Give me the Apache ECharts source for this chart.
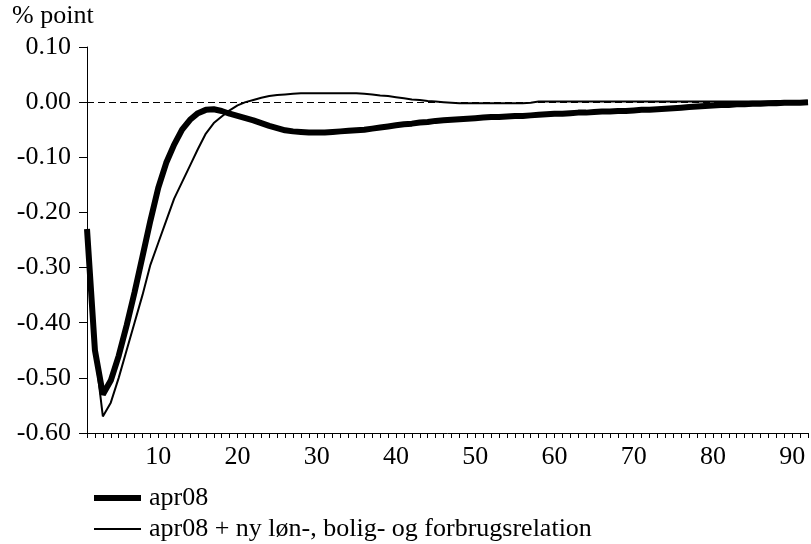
<!DOCTYPE html>
<html>
<head>
<meta charset="utf-8">
<script src="https://cdn.jsdelivr.net/npm/echarts@6/dist/echarts.min.js"></script>
<style>
  html, body { margin: 0; padding: 0; background: #fff; }
  #chart { width: 811px; height: 544px; }
</style>
</head>
<body>
<div id="chart"></div>
<script>
// periods 1..92
const periods = Array.from({ length: 92 }, (_, i) => String(i + 1));

const apr08 = [
  -0.23, -0.45, -0.53, -0.505, -0.46, -0.405, -0.345, -0.28, -0.215, -0.155,
  -0.11, -0.077, -0.05, -0.032, -0.02, -0.014, -0.013, -0.016, -0.021, -0.025,
  -0.029, -0.033, -0.038, -0.043, -0.047, -0.051, -0.053, -0.054, -0.055, -0.055,
  -0.055, -0.054, -0.053, -0.052, -0.051, -0.05, -0.048, -0.046, -0.044, -0.042,
  -0.04, -0.039, -0.037, -0.036, -0.034, -0.033, -0.032, -0.031, -0.03, -0.029,
  -0.028, -0.027, -0.027, -0.026, -0.025, -0.025, -0.024, -0.023, -0.022, -0.021,
  -0.021, -0.02, -0.019, -0.019, -0.018, -0.017, -0.017, -0.016, -0.016, -0.015,
  -0.014, -0.014, -0.013, -0.012, -0.011, -0.01, -0.009, -0.008, -0.007, -0.006,
  -0.005, -0.005, -0.004, -0.004, -0.003, -0.003, -0.002, -0.002, -0.001, -0.001,
  -0.001, 0.0
];

const apr08ny = [
  -0.23, -0.45, -0.57, -0.545, -0.5, -0.45, -0.4, -0.35, -0.295, -0.255,
  -0.215, -0.175, -0.145, -0.115, -0.085, -0.057, -0.038, -0.026, -0.015, -0.006,
  0.0, 0.004, 0.008, 0.011, 0.013, 0.014, 0.015, 0.016, 0.016, 0.016,
  0.016, 0.016, 0.016, 0.016, 0.016, 0.015, 0.014, 0.012, 0.011, 0.009,
  0.007, 0.005, 0.004, 0.002, 0.001, 0.0, -0.001, -0.002, -0.002, -0.002,
  -0.002, -0.002, -0.002, -0.002, -0.002, -0.002, -0.001, 0.001, 0.001, 0.001,
  0.001, 0.001, 0.001, 0.001, 0.001, 0.001, 0.001, 0.001, 0.001, 0.001,
  0.001, 0.001, 0.001, 0.001, 0.001, 0.001, 0.001, 0.001, 0.001, 0.001,
  0.001, 0.001, 0.001, 0.001, 0.001, 0.001, 0.001, 0.002, 0.002, 0.002,
  0.002, 0.002
];

const seriesNames = ['apr08', 'apr08 + ny løn-, bolig- og forbrugsrelation'];
const yTicks = { min: -0.6, max: 0.1, step: 0.1 };

const font = '"Liberation Serif", "Times New Roman", serif';
const fs = 26;
const chart = echarts.init(document.getElementById('chart'), null, { renderer: 'canvas' });

function legendRow(name, top, thickness) {
  return {
    orient: 'vertical', left: 94, top: top, padding: 0,
    itemWidth: 47, itemHeight: thickness, icon: 'rect',
    data: [name],
    textStyle: { fontFamily: font, fontSize: fs, lineHeight: 26, color: '#000', padding: [0, 0, 0, 3] }
  };
}

chart.setOption({
  animation: false,
  backgroundColor: '#fff',
  textStyle: { fontFamily: font, color: '#000' },
  graphic: [{
    type: 'text', left: 12, top: 3,
    style: { text: '% point', font: fs + 'px ' + font, fill: '#000' }
  }],
  grid: { left: 87, right: 3, top: 47, bottom: 111, containLabel: false },
  legend: [legendRow(seriesNames[0], 485, 6), legendRow(seriesNames[1], 516, 2)],
  xAxis: {
    type: 'category', data: periods, boundaryGap: false,
    axisLine: { onZero: false, lineStyle: { color: '#000', width: 1 } },
    axisTick: { interval: 0, length: 5, lineStyle: { color: '#000' } },
    axisLabel: {
      interval: (idx, val) => Number(val) % 10 === 0,
      margin: 11, fontSize: fs, fontFamily: font, color: '#000'
    },
    splitLine: { show: false }
  },
  yAxis: {
    type: 'value', min: yTicks.min, max: yTicks.max, interval: yTicks.step,
    axisLine: { show: true, lineStyle: { color: '#000', width: 1 } },
    axisTick: { show: true, length: 8, lineStyle: { color: '#000' } },
    axisLabel: {
      formatter: v => v.toFixed(2), margin: 16,
      fontSize: fs, fontFamily: font, color: '#000'
    },
    splitLine: { show: false }
  },
  series: [
    {
      name: seriesNames[0], type: 'line', data: apr08, symbol: 'none', z: 4,
      lineStyle: { color: '#000', width: 6 }, itemStyle: { color: '#000' },
      markLine: {
        silent: true, symbol: 'none', label: { show: false },
        lineStyle: { color: '#000', type: [7, 4], width: 1 },
        data: [{ yAxis: 0 }]
      }
    },
    {
      name: seriesNames[1], type: 'line', data: apr08ny, symbol: 'none', z: 3,
      lineStyle: { color: '#000', width: 2 }, itemStyle: { color: '#000' }
    }
  ]
});
</script>
</body>
</html>
